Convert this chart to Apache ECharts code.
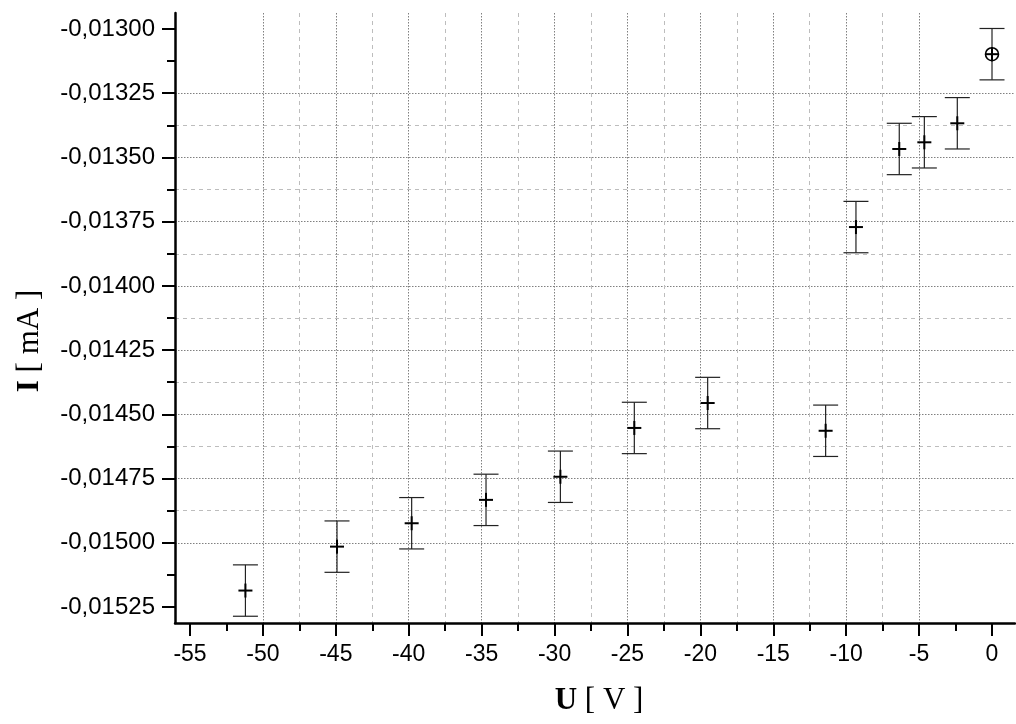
<!DOCTYPE html>
<html><head><meta charset="utf-8">
<script src="https://cdn.jsdelivr.net/npm/echarts@6/dist/echarts.min.js"></script>
<style>html,body{margin:0;padding:0;background:#fff}#c{width:1016px;height:724px}</style>
</head><body><div id="c"></div>
<script>
// Measured points (U in V, I in mA, error in mA)
const uValues = [-51.2, -44.92, -39.8, -34.7, -29.6, -24.53, -19.5, -11.41, -9.33, -6.36, -4.64, -2.38];
const iValues = [-0.015186, -0.015015, -0.014924, -0.014833, -0.014743, -0.014553, -0.014456, -0.014564, -0.013771, -0.013467, -0.013441, -0.013367];
const iErrors = [0.0001, 0.0001, 0.0001, 0.0001, 0.0001, 0.0001, 0.0001, 0.0001, 0.0001, 0.0001, 0.0001, 0.0001];
// Reference point at U = 0
const uZero = [0];
const iZero = [-0.013098];
const iZeroErr = [0.0001];
// Tick values
const xMajorTicks = [-55, -50, -45, -40, -35, -30, -25, -20, -15, -10, -5, 0];
const xMinorTicks = [-52.5, -47.5, -42.5, -37.5, -32.5, -27.5, -22.5, -17.5, -12.5, -7.5, -2.5];
const yMajorTicks = [-0.01525, -0.015, -0.01475, -0.0145, -0.01425, -0.014, -0.01375, -0.0135, -0.01325, -0.013];
const yMinorTicks = [-0.015125, -0.014875, -0.014625, -0.014375, -0.014125, -0.013875, -0.013625, -0.013375, -0.013125];

const X_MIN = -56.03, X_MAX = 1.577;
const Y_MIN = -0.0153123, Y_MAX = -0.0129377;

const majorSplit = { show: true, showMinLine: false, showMaxLine: false, lineStyle: { color: '#808080', type: [1.5, 1.5], width: 1 } };
const minorSplit = { show: true, showMinLine: false, showMaxLine: false, lineStyle: { color: '#bdbdbd', type: [4, 4], width: 1 } };
const titleStyle = (pad) => ({ fontFamily: 'Liberation Serif', fontSize: 31, color: '#000', padding: pad,
  rich: { b: { fontFamily: 'Liberation Serif', fontSize: 31, fontWeight: 'bold', color: '#000' } } });

const chart = echarts.init(document.getElementById('c'), null, { renderer: 'canvas' });

function errItem(params, api, withCircle) {
  const x = api.value(0), y = api.value(1), e = api.value(2);
  const pc = api.coord([x, y]);
  const pt = api.coord([x, y + e]);
  const pb = api.coord([x, y - e]);
  const cap = 12.5, arm = 7;
  const children = [
    { type: 'line', shape: { x1: pt[0], y1: pt[1], x2: pb[0], y2: pb[1] }, style: { stroke: '#222', lineWidth: 1.2 } },
    { type: 'line', shape: { x1: pt[0] - cap, y1: pt[1], x2: pt[0] + cap, y2: pt[1] }, style: { stroke: '#222', lineWidth: 1.2 } },
    { type: 'line', shape: { x1: pb[0] - cap, y1: pb[1], x2: pb[0] + cap, y2: pb[1] }, style: { stroke: '#222', lineWidth: 1.2 } },
    { type: 'line', shape: { x1: pc[0] - arm, y1: pc[1], x2: pc[0] + arm, y2: pc[1] }, style: { stroke: '#000', lineWidth: 2 } },
    { type: 'line', shape: { x1: pc[0], y1: pc[1] - arm, x2: pc[0], y2: pc[1] + arm }, style: { stroke: '#000', lineWidth: 2 } }
  ];
  if (withCircle) {
    children.push({ type: 'circle', shape: { cx: pc[0], cy: pc[1], r: 6.5 }, style: { stroke: '#000', fill: 'none', lineWidth: 1.6 } });
  }
  return { type: 'group', children };
}

const option = {
  backgroundColor: '#fff',
  animation: false,
  grid: { left: 175, right: 1, top: 13, bottom: 101, containLabel: false, outerBoundsMode: 'none' },
  xAxis: [
    {
      type: 'value', position: 'bottom', min: X_MIN, max: X_MAX,
      name: '{b|U} [ V ]', nameLocation: 'middle', nameGap: 62,
      nameTextStyle: titleStyle([0, 0, 0, 8]),
      axisLine: { show: true, onZero: false, lineStyle: { color: '#000', width: 2.5 } },
      axisTick: { show: true, inside: false, length: 13, customValues: xMajorTicks, lineStyle: { color: '#000', width: 2 } },
      axisLabel: { margin: 20, customValues: xMajorTicks, formatter: v => String(Math.round(v)), fontFamily: 'Liberation Sans', fontSize: 23, color: '#000' },
      splitLine: majorSplit
    },
    {
      type: 'value', position: 'bottom', min: X_MIN, max: X_MAX,
      axisLine: { show: false, onZero: false },
      axisTick: { show: true, inside: false, length: 8, customValues: xMinorTicks, lineStyle: { color: '#000', width: 2 } },
      axisLabel: { show: false },
      splitLine: minorSplit
    }
  ],
  yAxis: [
    {
      type: 'value', position: 'left', min: Y_MIN, max: Y_MAX,
      name: '{b|I} [ mA ]', nameLocation: 'middle', nameRotate: 90, nameGap: 130,
      nameTextStyle: titleStyle([0, 46, 0, 0]),
      axisLine: { show: true, onZero: false, lineStyle: { color: '#000', width: 2.5 } },
      axisTick: { show: true, inside: false, length: 13, customValues: yMajorTicks, lineStyle: { color: '#000', width: 2 } },
      axisLabel: { margin: 20, customValues: yMajorTicks, formatter: v => v.toFixed(5).replace('.', ','), fontFamily: 'Liberation Sans', fontSize: 24, color: '#000' },
      splitLine: majorSplit
    },
    {
      type: 'value', position: 'left', min: Y_MIN, max: Y_MAX,
      axisLine: { show: false, onZero: false },
      axisTick: { show: true, inside: false, length: 8, customValues: yMinorTicks, lineStyle: { color: '#000', width: 2 } },
      axisLabel: { show: false },
      splitLine: minorSplit
    }
  ],
  series: [
    {
      type: 'custom', xAxisIndex: 0, yAxisIndex: 0, z: 5,
      encode: { x: 0, y: 1 },
      data: uValues.map((u, i) => [u, iValues[i], iErrors[i]]),
      renderItem: (params, api) => errItem(params, api, false)
    },
    {
      type: 'custom', xAxisIndex: 0, yAxisIndex: 0, z: 5,
      encode: { x: 0, y: 1 },
      data: uZero.map((u, i) => [u, iZero[i], iZeroErr[i]]),
      renderItem: (params, api) => errItem(params, api, true)
    }
  ]
};
chart.setOption(option);
</script>
</body></html>
